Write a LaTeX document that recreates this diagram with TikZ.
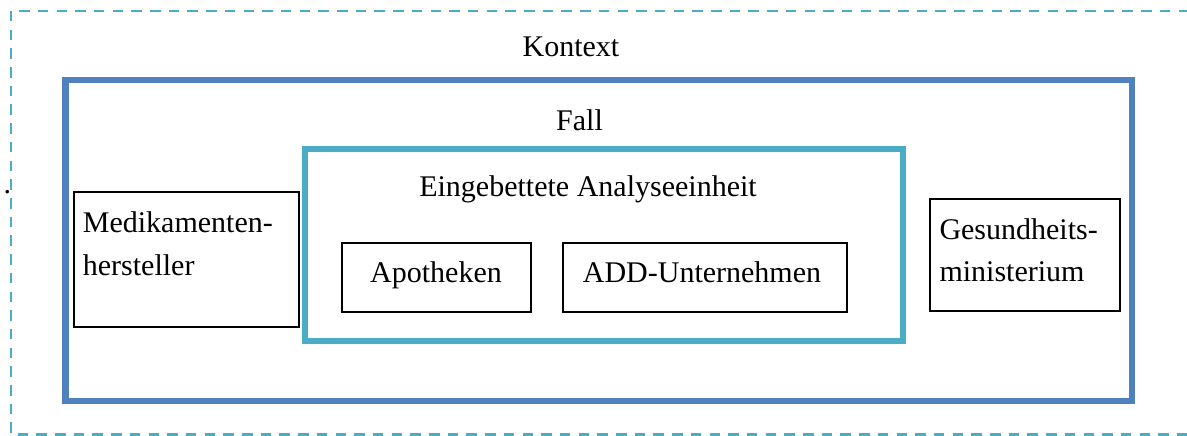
\documentclass[tikz,border=0pt]{standalone}
\usepackage{fontspec}
\setmainfont{Liberation Serif}
\definecolor{offblue}{HTML}{4F81BD}
\definecolor{offaqua}{HTML}{4BACC6}
\begin{document}
\begin{tikzpicture}[x=1pt,y=-1pt,
  lbl/.style={inner sep=0pt,font=\fontsize{30}{43}\selectfont},
  framebox/.style={draw=black,line width=1.8pt,inner sep=0pt}]
\useasboundingbox (0,0) rectangle (1187,436);
\begin{scope}
\clip (0,0) rectangle (1187,436);
\draw[offaqua,line width=2.6pt,dash pattern=on 10.5pt off 8.2pt] (11,11) rectangle (1205,434.5);
\end{scope}
% Fall box
\draw[offblue,line width=6.5pt] (65.5,80) rectangle (1132,401);
% embedded unit
\draw[offaqua,line width=6.5pt] (305,149) rectangle (903,341);
% small boxes
\node[framebox,minimum width=225pt,minimum height=135pt] (med) at (186.5,259.5) {};
\node[framebox,minimum width=190.3pt,minimum height=112.3pt] (ges) at (1024.85,254.85) {};
\node[framebox,minimum width=188.7pt,minimum height=68.4pt] (apo) at (436.35,277.5) {};
\node[framebox,minimum width=284pt,minimum height=68.4pt] (add) at (704.7,277.5) {};
% labels
\node[lbl,anchor=base] (kontext) at (571,56.7) {Kontext};
\node[lbl,anchor=base] (fall) at (579.5,130) {Fall};
\node[lbl,anchor=base] (eing) at (588,196) {Eingebettete Analyseeinheit};
\node[lbl,anchor=base] (apot) at (436,282.7) {Apotheken};
\node[lbl,anchor=base] (addt) at (702,282.7) {ADD-Unternehmen};
\node[lbl,anchor=base west] (medt1) at (82.7,232) {Medikamenten-};
\node[lbl,anchor=base west] (medt2) at (82.7,275) {hersteller};
\node[lbl,anchor=base west] (gest1) at (939.3,239.3) {Gesundheits-};
\node[lbl,anchor=base west] (gest2) at (939.3,281.7) {ministerium};
\node[lbl,anchor=base] (dot) at (7.3,193) {.};
\end{tikzpicture}
\end{document}
